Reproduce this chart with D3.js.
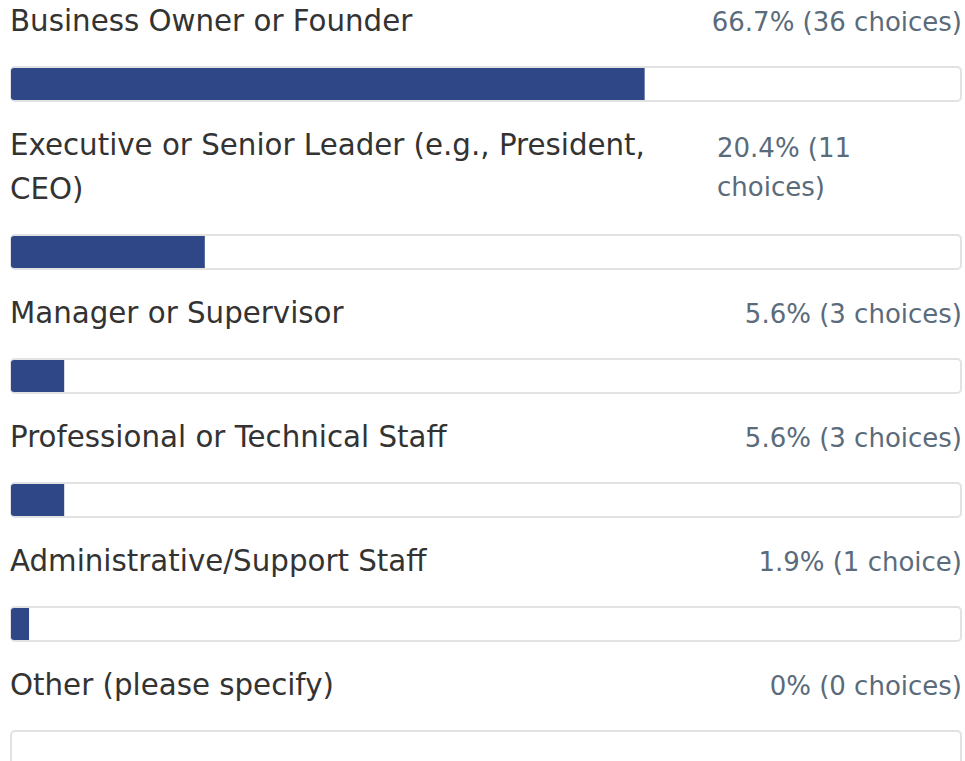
<!DOCTYPE html>
<html>
<head>
<meta charset="utf-8">
<script src="https://cdn.jsdelivr.net/npm/d3@7/dist/d3.min.js"></script>
<style>
  html, body { margin: 0; padding: 0; background: #ffffff; }
  svg { display: block; }
</style>
</head>
<body>
<div id="chart"></div>
<script>
// Survey responses: role of the respondent
const categories = [
  "Business Owner or Founder",
  "Executive or Senior Leader (e.g., President, CEO)",
  "Manager or Supervisor",
  "Professional or Technical Staff",
  "Administrative/Support Staff",
  "Other (please specify)"
];
const percents = [66.7, 20.4, 5.6, 5.6, 1.9, 0];
const counts = [36, 11, 3, 3, 1, 0];
const valueLabels = [
  "66.7% (36 choices)",
  "20.4% (11 choices)",
  "5.6% (3 choices)",
  "5.6% (3 choices)",
  "1.9% (1 choice)",
  "0% (0 choices)"
];

const W = 965, H = 761;
const left = 10, right = 962;
const labelFont = 29.3, valueFont = 26, lineH = 44;
const labelBoxMax = 690;      // label column width when a row is crowded
const valueBoxMin = 245;      // value column width when a row is crowded
const gap = 40;

const svg = d3.select("#chart").append("svg")
  .attr("width", W).attr("height", H)
  .style("font-family", "'DejaVu Sans', Verdana, sans-serif");

// track interior runs from x=11 to x=961
const x = d3.scaleLinear().domain([0, 100]).range([0, 950]);

function measure(text, size) {
  const t = svg.append("text").attr("font-size", size).text(text);
  const w = t.node().getComputedTextLength();
  t.remove();
  return w;
}

function wrap(text, size, maxW) {
  const words = text.split(" ");
  const lines = [];
  let cur = "";
  words.forEach(w => {
    const test = cur ? cur + " " + w : w;
    if (cur && measure(test, size) > maxW) { lines.push(cur); cur = w; }
    else cur = test;
  });
  if (cur) lines.push(cur);
  return lines;
}

let baseline = 31;
categories.forEach((cat, i) => {
  const g = svg.append("g");
  const lw = measure(cat, labelFont);
  const vw = measure(valueLabels[i], valueFont);
  const crowded = lw + gap + vw > (right - left);

  const labelLines = crowded ? wrap(cat, labelFont, labelBoxMax - left) : [cat];
  let valueLines, valueAnchorX, anchor;
  if (crowded && vw > valueBoxMin) {
    valueLines = wrap(valueLabels[i], valueFont, valueBoxMin);
    valueAnchorX = right - valueBoxMin;
    anchor = "start";
  } else {
    valueLines = [valueLabels[i]];
    valueAnchorX = right;
    anchor = "end";
  }

  g.selectAll("text.label").data(labelLines).join("text")
    .attr("class", "label")
    .attr("x", left)
    .attr("y", (d, j) => baseline + j * lineH)
    .attr("font-size", labelFont)
    .attr("fill", "#333333")
    .text(d => d);

  g.selectAll("text.value").data(valueLines).join("text")
    .attr("class", "value")
    .attr("x", valueAnchorX)
    .attr("y", (d, j) => baseline + (valueLines.length > 1 ? 2 : 0) + j * (lineH - 5))
    .attr("text-anchor", anchor)
    .attr("font-size", valueFont)
    .attr("fill", "#5a6b7b")
    .text(d => d);

  const nLines = Math.max(labelLines.length, valueLines.length);
  const lastBaseline = baseline + (nLines - 1) * lineH;
  const barTop = lastBaseline + 35;

  // track
  g.append("rect")
    .attr("x", left + 1).attr("y", barTop + 1)
    .attr("width", right - left - 2).attr("height", 34)
    .attr("rx", 4).attr("ry", 4)
    .attr("fill", "#ffffff")
    .attr("stroke", "#e2e2e2").attr("stroke-width", 2);

  // filled portion, rounded on the left only
  const fw = x(percents[i]);
  if (fw > 0) {
    const x0 = left + 1, y0 = barTop + 2, h = 32, r = 3;
    const p = d3.path();
    p.moveTo(x0 + r, y0);
    p.lineTo(x0 + fw, y0);
    p.lineTo(x0 + fw, y0 + h);
    p.lineTo(x0 + r, y0 + h);
    p.arcTo(x0, y0 + h, x0, y0 + h - r, r);
    p.lineTo(x0, y0 + r);
    p.arcTo(x0, y0, x0 + r, y0, r);
    p.closePath();
    g.append("path").attr("d", p.toString()).attr("fill", "#2f4787");
  }

  baseline = barTop + 36 + 53;
});
</script>
</body>
</html>
